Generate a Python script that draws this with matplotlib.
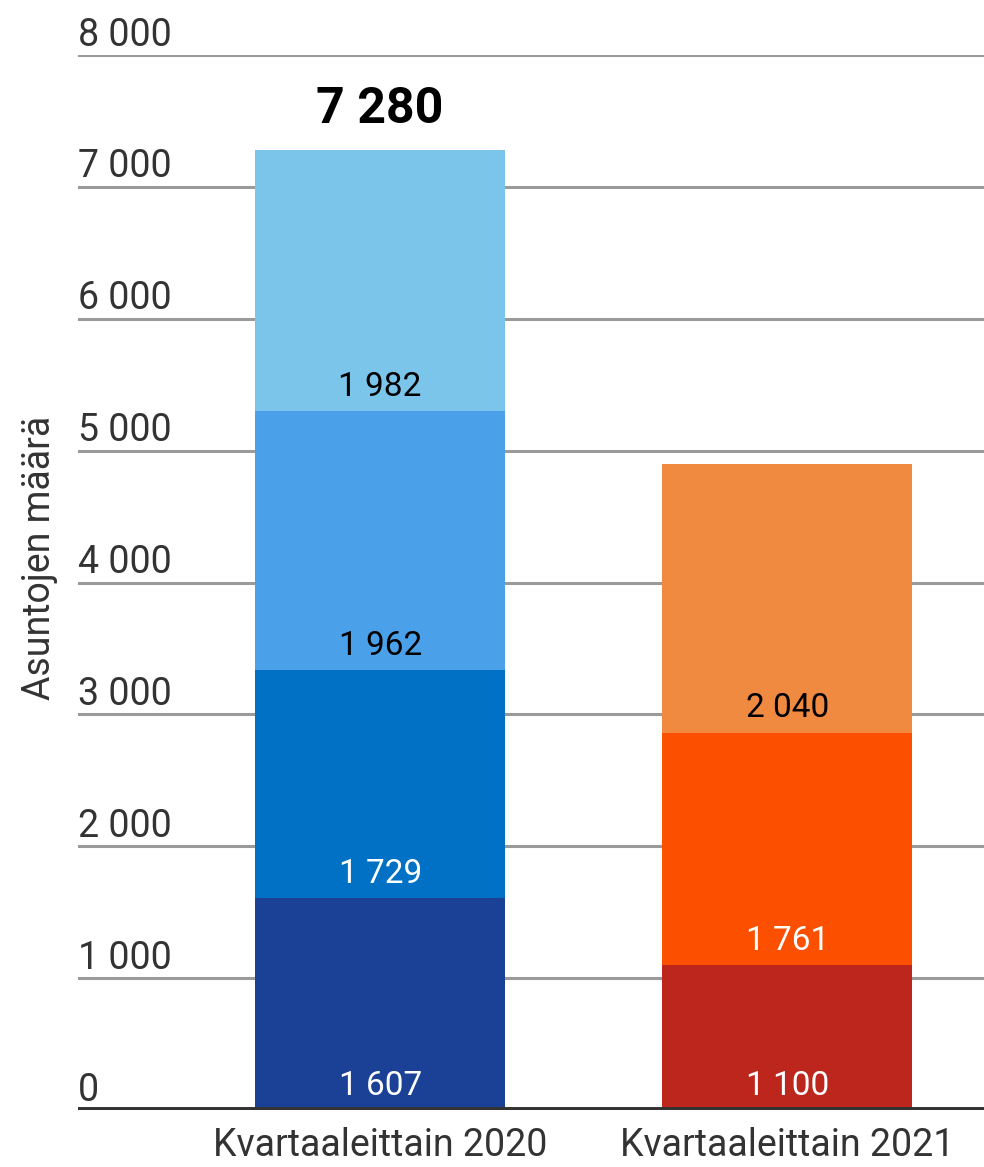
import numpy as np
import matplotlib.pyplot as plt
from matplotlib.transforms import blended_transform_factory

plt.rcParams['font.family'] = ['Roboto', 'DejaVu Sans']

categories = ["Kvartaaleittain 2020", "Kvartaaleittain 2021"]
values_2020 = [1607, 1729, 1962, 1982]
values_2021 = [1100, 1761, 2040]
colors_2020 = ["#1a4196", "#0071c5", "#4aa0e9", "#7bc4ea"]
colors_2021 = ["#bd261d", "#fd4f00", "#f08a40"]
label_colors_2020 = ["white", "white", "black", "black"]
label_colors_2021 = ["white", "white", "black"]
yticks = [0, 1000, 2000, 3000, 4000, 5000, 6000, 7000, 8000]


def fmt(v):
    return "{:,}".format(v).replace(",", " ")


fig = plt.figure(figsize=(9.84, 11.67), dpi=100)
ax = fig.add_axes([78 / 984, 1 - 1110 / 1167, 1 - 78 / 984, (1110 - 55) / 1167])

ax.set_ylim(0, 8000)
ax.set_xlim(-0.742, 1.483)
width = 0.614

for t in yticks[1:]:
    ax.axhline(t, color="#9a9a9a", lw=2.2, zorder=1)
ax.axhline(0, color="#333333", lw=5, zorder=4)

# y tick labels sit above the gridlines
trans = blended_transform_factory(ax.transAxes, ax.transData)
for t in yticks:
    ax.annotate(fmt(t), xy=(0, t), xycoords=trans, xytext=(0, 1),
                textcoords="offset points", ha="left", va="bottom",
                fontsize=27, color="#333333")

for i, (vals, cols, lcols) in enumerate([(values_2020, colors_2020, label_colors_2020),
                                         (values_2021, colors_2021, label_colors_2021)]):
    bottom = 0
    for v, c, lc in zip(vals, cols, lcols):
        ax.bar(i, v, width=width, bottom=bottom, color=c, zorder=3)
        ax.annotate(fmt(v), xy=(i, bottom), xytext=(0, 6), textcoords="offset points",
                    ha="center", va="bottom", fontsize=24, color=lc, zorder=5)
        bottom += v

total_2020 = sum(values_2020)
ax.annotate(fmt(total_2020), xy=(0, total_2020), xytext=(0, 12), textcoords="offset points",
            ha="center", va="bottom", fontsize=36, fontweight="bold", color="black")

ax.set_xticks([0, 1])
ax.set_xticklabels(categories, fontsize=27, color="#333333")
ax.tick_params(axis="x", length=0, pad=12)
ax.set_yticks([])
for s in ax.spines.values():
    s.set_visible(False)

fig.text(40 / 984, 1 - 558 / 1167, "Asuntojen määrä", rotation=90, ha="center", va="center",
         fontsize=27, color="#333333")

fig.savefig("out.png", dpi=100)
